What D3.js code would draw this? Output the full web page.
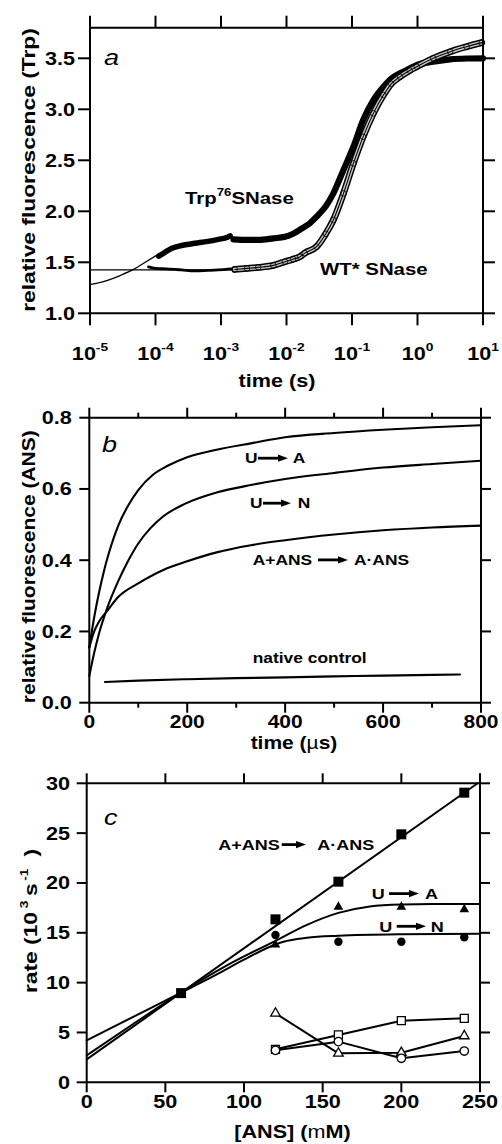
<!DOCTYPE html>
<html>
<head>
<meta charset="utf-8">
<script src="https://cdn.jsdelivr.net/npm/d3@7"></script>
<style>
  body { margin: 0; background: #fff; }
  svg { display: block; }
</style>
</head>
<body>
<div id="chart"></div>
<script>
// ---------- panel a : Trp fluorescence vs time (s), log axis ----------
const trpEarly = [[1.12e-4,1.56],[1.41e-4,1.60],[1.78e-4,1.637],[2.5e-4,1.665],[4.0e-4,1.686],
  [6.3e-4,1.705],[9.1e-4,1.725],[1.26e-3,1.745],[1.38e-3,1.76]];
const trpLate = [[1.55e-3,1.725],[2.5e-3,1.72],[3.7e-3,1.72],[6.3e-3,1.735],[9.5e-3,1.75],
  [0.0126,1.78],[0.017,1.83],[0.0224,1.88],[0.0288,1.947],[0.0398,2.05],[0.0519,2.176],
  [0.0741,2.405],[0.105,2.633],[0.148,2.895],[0.212,3.09],[0.302,3.22],[0.398,3.30],
  [0.541,3.353],[0.759,3.40],[0.973,3.434],[1.74,3.467],[3.16,3.49],[5.62,3.498],[10,3.50]];
const trpFit = [[1e-5,1.28],[2e-5,1.33],[3e-5,1.375],[4.6e-5,1.43],[7.4e-5,1.51],[1.05e-4,1.57]];
const wtEarly = [[7.8e-5,1.455],[1.0e-4,1.44],[1.48e-4,1.435],[2.5e-4,1.425],[4.0e-4,1.415],
  [6.3e-4,1.42],[9.1e-4,1.425],[1.45e-3,1.435]];
const wtLate = [[1.62e-3,1.43],[2.5e-3,1.44],[3.7e-3,1.45],[6.3e-3,1.47],[9.5e-3,1.506],
  [0.0126,1.53],[0.0161,1.555],[0.019,1.59],[0.0288,1.653],[0.0398,1.78],[0.0519,1.915],
  [0.0741,2.176],[0.105,2.47],[0.148,2.73],[0.212,2.96],[0.302,3.14],[0.398,3.25],
  [0.541,3.32],[0.759,3.38],[0.973,3.418],[1.74,3.50],[3.16,3.565],[5.62,3.614],[9.55,3.654]];
const wtFitFlat = [[1e-5,1.425],[1.62e-3,1.425]];
const aDecades = [1e-5,1e-4,1e-3,1e-2,1e-1,1,10];
const aDecadeExp = ["-5","-4","-3","-2","-1","0","1"];
const aYTicks = [1.0,1.5,2.0,2.5,3.0,3.5];

// ---------- panel b : ANS fluorescence vs time (us) ----------
const traceUA = [[0,0.155],[10,0.24],[20,0.31],[30,0.37],[40,0.42],[60,0.50],[80,0.555],
  [100,0.597],[130,0.64],[160,0.665],[200,0.689],[260,0.71],[330,0.728],[400,0.745],
  [500,0.757],[600,0.766],[700,0.773],[800,0.779]];
const traceUN = [[0,0.075],[10,0.14],[20,0.195],[35,0.26],[60,0.344],[80,0.40],[100,0.447],
  [125,0.49],[150,0.522],[195,0.558],[260,0.59],[330,0.611],[400,0.628],[500,0.645],
  [600,0.66],[700,0.67],[800,0.679]];
const traceANS = [[0,0.155],[10,0.20],[20,0.228],[35,0.255],[60,0.298],[100,0.335],[150,0.372],
  [200,0.397],[260,0.422],[330,0.442],[400,0.456],[500,0.472],[600,0.484],[700,0.492],[800,0.497]];
const traceNative = [[32,0.058],[100,0.062],[200,0.066],[300,0.069],[400,0.071],[500,0.074],
  [600,0.076],[700,0.078],[757,0.079]];
const bXTicks = [0,200,400,600,800];
const bXMinor = [100,300,500,700];
const bYTicks = [0,0.2,0.4,0.6,0.8];

// ---------- panel c : rates vs [ANS] ----------
const ansConc = [120,160,200,240];
const rateBind = [[60,8.95],[120,16.35],[160,20.13],[200,24.88],[240,29.06]];
const rateUA = [13.8,17.6,17.6,17.35];
const rateUN = [14.78,14.1,14.1,14.55];
const openTri = [6.92,2.91,2.97,4.65];
const openSq = [3.31,4.75,6.18,6.42];
const openCirc = [3.21,4.08,2.41,3.14];
const fitBind = [[0,2.3],[248.5,30]];
const fitUA = [[0,2.7],[30,5.9],[60,9.0],[90,11.8],[120,14.2],[140,15.8],[160,17.0],
  [180,17.65],[200,17.85],[220,17.9],[250,17.9]];
const fitUN = [[0,4.2],[40,7.4],[60,9.0],[80,10.6],[100,12.3],[115,13.5],[125,14.1],
  [140,14.5],[160,14.7],[200,14.85],[250,14.9]];
const cXTicks = [0,50,100,150,200,250];
const cYTicks = [0,5,10,15,20,25,30];

const SX = 1.2;   // the lettering in the figure is set wide
const FONT = "'Liberation Sans', Arial, Helvetica, sans-serif";
const TICK = 18;

const svg = d3.select("#chart").append("svg")
  .attr("width", 502).attr("height", 1144);

function txt(x, y, size, anchor, rot) {
  return svg.append("text")
    .attr("transform", `translate(${x},${y})` + (rot ? " rotate(-90)" : "") + ` scale(${SX},1)`)
    .attr("font-family", FONT).attr("font-size", size)
    .attr("font-weight", "bold").attr("text-anchor", anchor || "start")
    .attr("fill", "#000");
}

function panelLetter(x, y, s) {
  txt(x, y, 22.5).attr("font-weight", "normal").attr("font-style", "italic").text(s);
}

function arrow(x1, x2, y) {
  svg.append("line").attr("x1", x1).attr("x2", x2 - 8).attr("y1", y).attr("y2", y)
    .attr("stroke", "#000").attr("stroke-width", 2.8);
  svg.append("path").attr("d", `M${x2},${y}L${x2-10},${y-3.6}L${x2-10},${y+3.6}Z`)
    .attr("fill", "#000");
}

function frame(x, y, xt, yt, len, xMinor) {
  const [xa, xb] = x.range(), [ya, yb] = y.range();
  const sides = [
    [d3.axisBottom(x).tickValues(xt), `translate(0,${ya})`],
    [d3.axisTop(x).tickValues(xt), `translate(0,${yb})`],
    [d3.axisLeft(y).tickValues(yt), `translate(${xa},0)`],
    [d3.axisRight(y).tickValues(yt), `translate(${xb},0)`]
  ];
  sides.forEach(([ax, tr]) => {
    const g = svg.append("g").attr("transform", tr)
      .call(ax.tickSize(len).tickSizeOuter(0).tickFormat(() => "").offset(0));
    g.selectAll("text").remove();
    g.selectAll("path,line").attr("stroke", "#000").attr("stroke-width", 2);
  });
  if (xMinor) {
    [[d3.axisBottom(x), ya], [d3.axisTop(x), yb]].forEach(([ax, yy]) => {
      const g = svg.append("g").attr("transform", `translate(0,${yy})`)
        .call(ax.tickValues(xMinor).tickSize(5).tickFormat(() => "").offset(0));
      g.select(".domain").remove();
      g.selectAll("text").remove();
      g.selectAll("line").attr("stroke", "#000").attr("stroke-width", 2);
    });
  }
}

function path(data, line, w, col) {
  return svg.append("path").datum(data).attr("d", line)
    .attr("fill", "none").attr("stroke", col || "#000").attr("stroke-width", w)
    .attr("stroke-linejoin", "round").attr("stroke-linecap", "round");
}

// ================= panel a =================
const xA = d3.scaleLog().domain([1e-5, 10]).range([90, 483]);
const yA = d3.scaleLinear().domain([1.0, 3.8]).range([313.3, 27.7]);
const lineA = d3.line().x(d => xA(d[0])).y(d => yA(d[1])).curve(d3.curveMonotoneX);

path(wtFitFlat, lineA, 1.3);
path(trpFit, lineA, 1.3);
path(wtEarly, lineA, 2.8);
path(trpEarly, lineA, 5.5);
path(trpLate, lineA, 6.2);
path(wtLate, lineA, 6.8);
path(wtLate, lineA, 3.8, "#c8c8c8");
svg.append("g").selectAll("circle").data(wtLate).join("circle")
  .attr("cx", d => xA(d[0])).attr("cy", d => yA(d[1])).attr("r", 2.8)
  .attr("fill", "none").attr("stroke", "#000").attr("stroke-width", 0.8);
path(wtLate, lineA, 1.1);

frame(xA, yA, aDecades, aYTicks, 12);

aDecades.forEach((d, i) => {
  const t = txt(xA(d), 360, TICK, "middle");
  t.append("tspan").text("10");
  t.append("tspan").attr("font-size", 11.5).attr("dy", -9).text(aDecadeExp[i]);
});
aYTicks.forEach(v => txt(75, yA(v) + 6.4, TICK, "end").text(v.toFixed(1)));
txt(277, 387, 18, "middle").text("time (s)");
txt(35, 170, 19, "middle", true).text("relative fluorescence (Trp)");
panelLetter(104, 65, "a");

let tl = txt(185, 204, 17);
tl.append("tspan").text("Trp");
tl.append("tspan").attr("font-size", 11).attr("dy", -8).text("76");
tl.append("tspan").attr("dy", 8).text("SNase");
txt(320, 275, 17).text("WT* SNase");

// ================= panel b =================
const xB = d3.scaleLinear().domain([0, 800]).range([89.3, 481]);
const yB = d3.scaleLinear().domain([0, 0.8]).range([702.7, 417.7]);
const lineB = d3.line().x(d => xB(d[0])).y(d => yB(d[1])).curve(d3.curveMonotoneX);

[traceUA, traceUN, traceANS, traceNative].forEach(tr => path(tr, lineB, 2.1));

frame(xB, yB, bXTicks, bYTicks, 10, bXMinor);

bXTicks.forEach(v => txt(xB(v), 728, 17.5, "middle").text(v));
bYTicks.forEach(v => txt(71.7, yB(v) + 6.4, TICK, "end").text(v.toFixed(1)));
tl = txt(294, 749, 17.5, "middle");
tl.append("tspan").text("time (");
tl.append("tspan").attr("font-weight", "normal").text("\u00b5");
tl.append("tspan").text("s)");
txt(35, 566.7, 17.5, "middle", true).text("relative fluorescence (ANS)");
panelLetter(102, 451.7, "b");

txt(245, 463.3, 14.5).text("U"); arrow(258, 288, 458.2); txt(292.7, 463.3, 14.5).text("A");
txt(250, 508.3, 14.5).text("U"); arrow(263, 291, 503.2); txt(297.7, 508.3, 14.5).text("N");
txt(252.7, 565, 14.5).text("A+ANS"); arrow(318, 348, 559.9); txt(354, 565, 14.5).text("A\u00b7ANS");
txt(252.7, 663.3, 14.5).text("native control");

// ================= panel c =================
const xC = d3.scaleLinear().domain([0, 250]).range([86.7, 480]);
const yC = d3.scaleLinear().domain([0, 30]).range([1082.3, 783.3]);
const lineC = d3.line().x(d => xC(d[0])).y(d => yC(d[1])).curve(d3.curveMonotoneX);
const lineC2 = d3.line().x(d => xC(d[0])).y(d => yC(d[1]));

path(fitBind, lineC2, 2);
path(fitUA, lineC, 2);
path(fitUN, lineC, 2);

const sym = (type, size) => d3.symbol().type(type).size(size)();
const openSeries = [[openTri, d3.symbolTriangle, 40], [openSq, d3.symbolSquare, 64],
  [openCirc, d3.symbolCircle, 56]];

// open series, joined by straight segments
openSeries.forEach(([vals]) => path(ansConc.map((c, i) => [c, vals[i]]), lineC2, 2));
openSeries.forEach(([vals, type, size]) => {
  svg.append("g").selectAll("path").data(ansConc.map((c, i) => [c, vals[i]])).join("path")
    .attr("transform", d => `translate(${xC(d[0])},${yC(d[1])})`)
    .attr("d", sym(type, size))
    .attr("fill", "#fff").attr("stroke", "#000").attr("stroke-width", 1.3);
});

svg.append("g").selectAll("path").data(rateBind).join("path")
  .attr("transform", d => `translate(${xC(d[0])},${yC(d[1])})`)
  .attr("d", sym(d3.symbolSquare, 100)).attr("fill", "#000");
svg.append("g").selectAll("path").data(ansConc.map((c, i) => [c, rateUA[i]])).join("path")
  .attr("transform", d => `translate(${xC(d[0])},${yC(d[1])})`)
  .attr("d", sym(d3.symbolTriangle, 40)).attr("fill", "#000");
svg.append("g").selectAll("path").data(ansConc.map((c, i) => [c, rateUN[i]])).join("path")
  .attr("transform", d => `translate(${xC(d[0])},${yC(d[1])})`)
  .attr("d", sym(d3.symbolCircle, 56)).attr("fill", "#000");

frame(xC, yC, cXTicks, cYTicks, 10);

cXTicks.forEach(v => txt(xC(v), 1108, TICK, "middle").text(v));
cYTicks.forEach(v => txt(70, yC(v) + 6.4, TICK, "end").text(v));
tl = txt(292.5, 1138, 18, "middle");
tl.append("tspan").text("[ANS] (");
tl.append("tspan").attr("font-weight", "normal").text("m");
tl.append("tspan").text("M)");
tl = txt(37, 921, 19, "middle", true);
tl.append("tspan").text("rate (10");
tl.append("tspan").attr("font-size", 11.5).attr("dy", -9).attr("dx", 3).text("3");
tl.append("tspan").attr("dy", 9).attr("dx", 4).text("s");
tl.append("tspan").attr("font-size", 11.5).attr("dy", -9).attr("dx", 2).text("-1");
tl.append("tspan").attr("dy", 9).attr("dx", 10).text(")");
panelLetter(104, 825, "c");

txt(218.3, 850, 15).text("A+ANS"); arrow(281.7, 306, 844.6); txt(317.3, 850, 15).text("A\u00b7ANS");
txt(371.7, 899, 15).text("U"); arrow(389, 419, 893.6); txt(425, 899, 15).text("A");
txt(379.3, 931.7, 15).text("U"); arrow(396.7, 426, 926.3); txt(430.7, 931.7, 15).text("N");
</script>
</body>
</html>
